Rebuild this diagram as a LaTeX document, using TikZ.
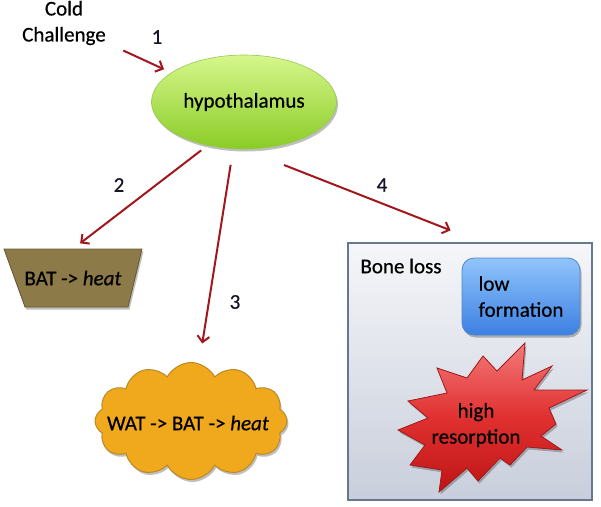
\documentclass[tikz,border=0pt]{standalone}
\usepackage{fontspec}
\setmainfont{Carlito}[FakeBold=0.5]
\usetikzlibrary{shapes.geometric,shapes.symbols,arrows.meta,shadows,calc}
\definecolor{arrowred}{RGB}{162,22,30}
\definecolor{greentop}{RGB}{214,247,140}
\definecolor{greenbot}{RGB}{138,204,38}
\definecolor{greenline}{RGB}{150,200,80}
\definecolor{batfill}{RGB}{140,123,72}
\definecolor{batline}{RGB}{100,88,50}
\definecolor{cloudfill}{RGB}{240,168,28}
\definecolor{cloudline}{RGB}{185,138,40}
\definecolor{boxtop}{RGB}{245,246,249}
\definecolor{boxbot}{RGB}{200,206,219}
\definecolor{boxline}{RGB}{102,120,143}
\definecolor{bluetop}{RGB}{145,196,251}
\definecolor{bluebot}{RGB}{60,128,226}
\definecolor{blueline}{RGB}{80,134,198}
\definecolor{redtop}{RGB}{244,122,122}
\definecolor{redmid}{RGB}{224,48,48}
\definecolor{redbot}{RGB}{192,21,21}
\definecolor{redline}{RGB}{158,26,26}
\definecolor{numcol}{RGB}{20,22,40}
\tikzset{
  txt/.style={font=\fontsize{21pt}{26pt}\selectfont, inner sep=0pt, text=black},
  num/.style={txt, text=numcol},
  arr/.style={draw=arrowred, line width=2pt, -{Straight Barb[length=6pt,width=12pt]}},
  shad/.style={drop shadow={shadow xshift=1.5pt, shadow yshift=-2.5pt, opacity=0.25, fill=black}},
}
\begin{document}
\begin{tikzpicture}[x=1pt,y=-1pt]
\useasboundingbox (0,0) rectangle (601,506);

% Bone loss box
\node[draw=boxline, line width=1.2pt, top color=boxtop, bottom color=boxbot,
      minimum width=244pt, minimum height=257pt, inner sep=0pt] (bone) at (470,371.5) {};
\node[txt, anchor=center] (bonet) at (401,266) {Bone loss};

% low formation
\node[txt, shad, draw=blueline, line width=0.8pt, rounded corners=12pt,
      top color=bluetop, bottom color=bluebot, minimum width=118pt, minimum height=77pt,
      align=left] (lowf) at (521,296.5) {low\\formation};

% high resorption star
\path[shad, draw=redline, line width=0.8pt, top color=redtop, bottom color=redbot, middle color=redmid]
  (525,343) -- (522,380) -- (552,366) -- (534,390) -- (587,390) -- (549,408)
  -- (556,424) -- (541,436) -- (562,450) -- (527,447) -- (510,465) -- (500,458)
  -- (478,481) -- (467,468) -- (439,492) -- (442,470) -- (410,465) -- (425,445)
  -- (398,430) -- (428,418) -- (408,401) -- (447,393) -- (437,368) -- (467,378)
  -- (483,356) -- (497,371) -- cycle;
\node[txt, align=center] (hr) at (476,425) {high\\resorption};

% hypothalamus
\node[txt, ellipse, shad, draw=greenline, line width=0.6pt, top color=greentop, bottom color=greenbot,
      minimum width=185pt, minimum height=94pt] (hypo) at (244,102) {hypothalamus};

% Cold challenge
\node[txt, align=center] (cold) at (64,23) {Cold\\Challenge};

% BAT trapezoid
\path[shad, fill=batfill, draw=batline, line width=0.8pt]
  (4,249) -- (142,249) -- (128,307) -- (25,307) -- cycle;
\node[txt, minimum width=138pt, minimum height=58pt] (bat) at (73,278) {BAT -> \textit{heat}};

% WAT cloud
\node[cloud, cloud puffs=12, cloud puff arc=125, aspect=1.64, minimum width=192pt, minimum height=117pt,
      inner sep=0pt, shad, fill=cloudfill, draw=cloudline, line width=1pt] (wat) at (191,421) {};
\node[txt] (watt) at (188,423) {WAT -> BAT -> \textit{heat}};

% numbers
\node[num] (n1) at (157,37) {1};
\node[num] (n2) at (119,185) {2};
\node[num] (n3) at (235,302) {3};
\node[num] (n4) at (382,185) {4};

% arrows
\draw[arr, shorten <=19pt, shorten >=8pt] (cold.-25) -- (hypo.158);
\draw[arr, shorten <=8pt, shorten >=9pt] (hypo.230) -- (bat.north);
\draw[arr, shorten <=16pt, shorten >=20pt] (hypo.257) -- (wat.82);
\draw[arr, shorten <=43pt, shorten >=33pt] (hypo.south) -- (bone.85);
\end{tikzpicture}
\end{document}
